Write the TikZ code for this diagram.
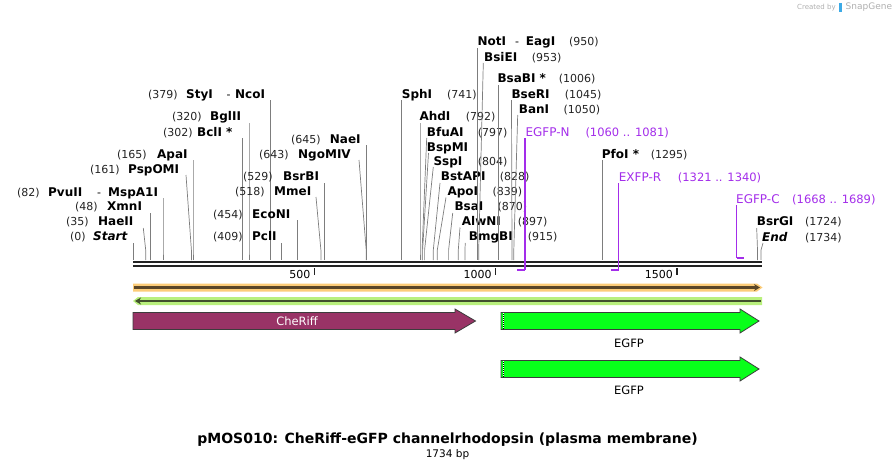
\documentclass[tikz,border=0pt]{standalone}
\usepackage{fontspec}
\setmainfont{DejaVu Sans}
\usetikzlibrary{arrows.meta}
\definecolor{stemgray}{RGB}{125,125,125}
\definecolor{primcol}{RGB}{163,45,234}
\definecolor{seqblack}{RGB}{35,35,35}
\definecolor{orgband}{RGB}{252,204,120}
\definecolor{grnband}{RGB}{185,240,125}
\definecolor{orgline}{RGB}{90,70,40}
\definecolor{grnline}{RGB}{65,80,45}
\definecolor{cheriff}{RGB}{153,51,102}
\definecolor{egfpgreen}{RGB}{8,255,26}
\definecolor{outl}{RGB}{60,60,60}
\definecolor{sgray}{RGB}{175,175,175}
\definecolor{sgblue}{RGB}{60,170,230}
\newcommand\mkstem[4]{%
  \coordinate (#1t) at (#2,#3);
  \coordinate (#1k) at (#4,250);
  \coordinate (#1b) at (#4,260);
  \draw[stemline] (#1t) -- (#1k) -- (#1b);}
\begin{document}
\begin{tikzpicture}[x=1pt,y=-1pt,
  nm/.style={font=\fontsize{12}{14}\selectfont\bfseries, anchor=base west, inner sep=0pt, text=black},
  num/.style={font=\fontsize{11}{13}\selectfont, anchor=base west, inner sep=0pt, text=seqblack},
  dashlbl/.style={font=\fontsize{11}{13}\selectfont, anchor=base west, inner sep=0pt},
  prim/.style={font=\fontsize{12}{14}\selectfont, anchor=base west, inner sep=0pt, text=primcol},
  primnum/.style={font=\fontsize{11.5}{13}\selectfont, anchor=base west, inner sep=0pt, text=primcol},
  stemline/.style={draw=stemgray, line width=0.7pt},
  primline/.style={draw=primcol, line width=1.1pt},
  primbar/.style={draw=primcol, line width=2.2pt},
  ticklbl/.style={font=\fontsize{11}{13}\selectfont, anchor=base east, inner sep=0pt},
  featbox/.style={draw=outl, line width=0.8pt},
  featlbl/.style={font=\fontsize{11.5}{13}\selectfont, inner sep=0pt}]
\useasboundingbox (0,0) rectangle (895,471);

% ---------- sequence line ----------
\coordinate (seqL) at (133,262);
\coordinate (seqR) at (762,262);
\coordinate (seqL2) at (133,266);
\coordinate (seqR2) at (762,266);
\draw[seqblack, line width=2.6pt] (seqL) -- (seqR);
\draw[seqblack, line width=2.6pt] (seqL2) -- (seqR2);

% ticks
\coordinate (t500a) at (314.4,268); \coordinate (t500b) at (314.4,274.5);
\coordinate (t1000a) at (495.7,268); \coordinate (t1000b) at (495.7,274.5);
\coordinate (t1500a) at (677,268); \coordinate (t1500b) at (677,274.5);
\draw[seqblack, line width=1.5pt] (t500a) -- (t500b);
\draw[seqblack, line width=1.5pt] (t1000a) -- (t1000b);
\draw[seqblack, line width=1.5pt] (t1500a) -- (t1500b);
\node[ticklbl] (l500) at (310.5,278) {500};
\node[ticklbl] (l1000) at (491.8,278) {1000};
\node[ticklbl] (l1500) at (673,278) {1500};

% ---------- left labels ----------
\node[num] (n0) at (70,240.2) {(0)};
\node[nm] (s0) at (93,240.2) {\textit{Start}};
\mkstem{st0}{133.3}{243}{133.3}

\node[num] (n35) at (66,225.9) {(35)};
\node[nm] (s35) at (98,225.9) {HaeII};
\mkstem{st35}{143.3}{228}{145.7}

\node[num] (n48) at (75,210.9) {(48)};
\node[nm] (s48) at (107,210.9) {XmnI};
\mkstem{st48}{150.5}{213}{150.5}

\node[num] (n82) at (17,196.5) {(82)};
\node[nm] (s82a) at (48,196.5) {PvuII};
\node[dashlbl] (d82) at (97,196.5) {-};
\node[nm] (s82b) at (108,196.5) {MspA1I};
\mkstem{st82}{163}{198}{163}

\node[num] (n161) at (90,173.5) {(161)};
\node[nm] (s161) at (128,173.5) {PspOMI};
\mkstem{st161}{186}{175}{191.4}

\node[num] (n165) at (117,158.2) {(165)};
\node[nm] (s165) at (157,158.2) {ApaI};
\mkstem{st165}{193}{160}{193}

\node[num] (n302) at (163,136.5) {(302)};
\node[nm] (s302) at (197,136.5) {BclI *};
\mkstem{st302}{242.5}{138}{242.5}

\node[num] (n320) at (172,120.9) {(320)};
\node[nm] (s320) at (210,120.9) {BglII};
\mkstem{st320}{249}{123}{249}

\node[num] (n379) at (148,98.2) {(379)};
\node[nm] (s379a) at (186,98.2) {StyI};
\node[dashlbl] (d379) at (226.5,98.2) {-};
\node[nm] (s379b) at (235,98.2) {NcoI};
\mkstem{st379}{270.5}{100}{270.5}

\node[num] (n409) at (213,240.9) {(409)};
\node[nm] (s409) at (252,240.9) {PclI};
\mkstem{st409}{281.3}{243}{281.3}

\node[num] (n454) at (213,218.5) {(454)};
\node[nm] (s454) at (252,218.5) {EcoNI};
\mkstem{st454}{297.7}{220}{297.7}

\node[num] (n518) at (235,195.9) {(518)};
\node[nm] (s518) at (274,195.9) {MmeI};
\mkstem{st518}{316}{197}{320.9}

\node[num] (n529) at (243,180.9) {(529)};
\node[nm] (s529) at (283,180.9) {BsrBI};
\mkstem{st529}{324.5}{183}{324.5}

\node[num] (n643) at (259,158.2) {(643)};
\node[nm] (s643) at (298,158.2) {NgoMIV};
\mkstem{st643}{359}{160}{366.2}

\node[num] (n645) at (291,143.2) {(645)};
\node[nm] (s645) at (329.7,143.2) {NaeI};
\mkstem{st645}{366.5}{145}{366.5}

% ---------- right labels ----------
\node[nm] (s741) at (401.7,98.2) {SphI};
\node[num] (n741) at (447,98.2) {(741)};
\mkstem{st741}{401.8}{100}{401.8}

\node[nm] (s792) at (419.3,120.9) {AhdI};
\node[num] (n792) at (465.7,120.9) {(792)};
\mkstem{st792}{420}{123}{420}

\node[nm] (s797a) at (426.7,136.2) {BfuAI};
\node[num] (n797) at (477.7,136.2) {(797)};
\mkstem{st797a}{426.7}{138}{422.1}

\node[nm] (s797b) at (426.7,151.2) {BspMI};
\mkstem{st797b}{428.5}{153}{422.6}

\node[nm] (s804) at (433.3,165.9) {SspI};
\node[num] (n804) at (477.7,165.9) {(804)};
\mkstem{st804}{433.3}{167}{424.6}

\node[nm] (s828) at (440.7,180.9) {BstAPI};
\node[num] (n828) at (499.7,180.9) {(828)};
\mkstem{st828}{440}{183}{433.3}

\node[nm] (s839) at (447.3,195.9) {ApoI};
\node[num] (n839) at (492.3,195.9) {(839)};
\mkstem{st839}{446}{197.5}{437.3}

\node[nm] (s870) at (454.3,210.9) {BsaI};
\node[num] (n870) at (497.3,210.9) {(870)};
\mkstem{st870}{452.7}{213}{448.6}

\node[nm] (s897) at (461.7,225.9) {AlwNI};
\node[num] (n897) at (517.7,225.9) {(897)};
\mkstem{st897}{460}{227.5}{458.3}

\node[nm] (s915) at (468.7,240.9) {BmgBI};
\node[num] (n915) at (527.7,240.9) {(915)};
\mkstem{st915}{465.3}{243}{464.9}

\node[nm] (s950a) at (477.3,45.9) {NotI};
\node[dashlbl] (d950) at (515,45.9) {-};
\node[nm] (s950b) at (525.7,45.9) {EagI};
\node[num] (n950) at (569,45.9) {(950)};
\mkstem{st950}{477.6}{48}{477.6}

\node[nm] (s953) at (484,61.5) {BsiEI};
\node[num] (n953) at (531.7,61.5) {(953)};
\mkstem{st953}{483.3}{63}{478.7}

\node[nm] (s1006) at (497.3,82.5) {BsaBI *};
\node[num] (n1006) at (558.7,82.5) {(1006)};
\mkstem{st1006}{497.9}{85}{497.9}

\node[nm] (s1045) at (511.3,98.2) {BseRI};
\node[num] (n1045) at (564.7,98.2) {(1045)};
\mkstem{st1045}{511.5}{100}{512}

\node[nm] (s1050) at (518.7,113.2) {BanI};
\node[num] (n1050) at (563.3,113.2) {(1050)};
\mkstem{st1050}{517.7}{115}{513.8}

\node[nm] (s1295) at (601.7,158.2) {PfoI *};
\node[num] (n1295) at (650.7,158.2) {(1295)};
\mkstem{st1295}{602.7}{160}{602.7}

\node[nm] (s1724) at (756.7,225.9) {BsrGI};
\node[num] (n1724) at (805,225.9) {(1724)};
\mkstem{st1724}{756.7}{228}{757.5}

\node[nm] (s1734) at (762,241.2) {\textit{End}};
\node[num] (n1734) at (805,241.2) {(1734)};
\mkstem{st1734}{763}{243}{761}

% ---------- primers ----------
\node[prim] (pN) at (525.3,136.5) {EGFP-N};
\node[primnum] (pNn) at (585.3,136.5) {(1060 .. 1081)};
\coordinate (pNt) at (525,138); \coordinate (pNb) at (525,270); \coordinate (pNl) at (517,270);
\draw[primline] (pNt) -- (pNb);
\draw[primbar] (pNl) -- (pNb);

\node[prim] (pR) at (618.7,181.5) {EXFP-R};
\node[primnum] (pRn) at (677.7,181.5) {(1321 .. 1340)};
\coordinate (pRt) at (618.7,183); \coordinate (pRb) at (618.7,270); \coordinate (pRl) at (611,270);
\draw[primline] (pRt) -- (pRb);
\draw[primbar] (pRl) -- (pRb);

\node[prim] (pC) at (736,203.2) {EGFP-C};
\node[primnum] (pCn) at (792,203.2) {(1668 .. 1689)};
\coordinate (pCt) at (736.7,205); \coordinate (pCb) at (736.7,258); \coordinate (pCr) at (743.5,258);
\draw[primline] (pCt) -- (pCb);
\draw[primbar] (pCb) -- (pCr);

% ---------- full-length bands ----------
\fill[orgband] (133,283.5) -- (757,283.5) -- (762.5,287.5) -- (757,291.5) -- (133,291.5) -- cycle;
\coordinate (obL) at (134,287.5); \coordinate (obR) at (760,287.5);
\draw[orgline, line width=2.4pt, -{Stealth[length=6pt,width=7pt]}] (obL) -- (obR);

\fill[grnband] (138,297) -- (762,297) -- (762,305) -- (138,305) -- (133,301) -- cycle;
\coordinate (gbL) at (135,301); \coordinate (gbR) at (761,301);
\draw[grnline, line width=2.4pt, -{Stealth[length=6pt,width=7pt]}] (gbR) -- (gbL);

% ---------- features ----------
\draw[featbox, fill=cheriff] (133,312.5) -- (455,312.5) -- (455,309) -- (475.5,321) -- (455,333) -- (455,329.5) -- (133,329.5) -- cycle;
\node[featlbl, text=white] (cheriffL) at (297,321) {CheRiff};

\draw[featbox, fill=egfpgreen] (501,312.5) -- (740,312.5) -- (740,309) -- (759,321) -- (740,333) -- (740,329.5) -- (501,329.5) -- cycle;
\coordinate (e1a) at (503,313); \coordinate (e1b) at (503,329);
\draw[black, line width=0.9pt] (e1a) -- (e1b);
\draw[white, line width=0.9pt, dash pattern=on 1pt off 1pt] (e1a) -- (e1b);
\node[featlbl] (egfp1L) at (629,343) {EGFP};

\draw[featbox, fill=egfpgreen] (501,360.5) -- (740,360.5) -- (740,357) -- (759,369) -- (740,381) -- (740,377.5) -- (501,377.5) -- cycle;
\coordinate (e2a) at (503,361); \coordinate (e2b) at (503,377);
\draw[black, line width=0.9pt] (e2a) -- (e2b);
\draw[white, line width=0.9pt, dash pattern=on 1pt off 1pt] (e2a) -- (e2b);
\node[featlbl] (egfp2L) at (629,390) {EGFP};

% ---------- title ----------
\node[font=\fontsize{14}{16}\selectfont\bfseries, inner sep=0pt] (title) at (447.5,440) {pMOS010: CheRiff-eGFP channelrhodopsin (plasma membrane)};
\node[font=\fontsize{10.5}{12}\selectfont, inner sep=0pt] (bp) at (447.5,455) {1734 bp};

% ---------- watermark ----------
\node[font=\fontsize{7}{8}\selectfont, text=sgray, anchor=west, inner sep=0pt] (cby) at (797,7.5) {Created by};
\fill[sgblue] (838.5,3) rectangle (842,12);
\node[font=\fontsize{9}{10}\selectfont, text=sgray, anchor=west, inner sep=0pt] (sg) at (845.5,7.5) {SnapGene};
\end{tikzpicture}
\end{document}
